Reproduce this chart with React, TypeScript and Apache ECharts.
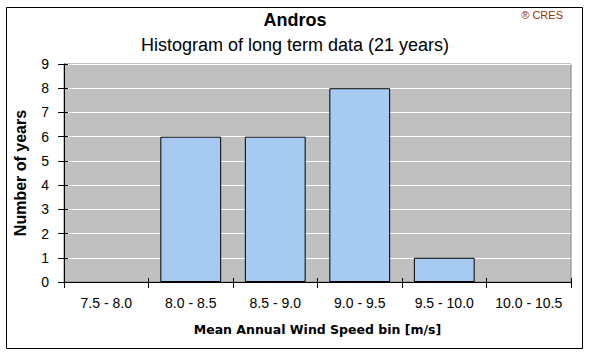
import React, { useEffect, useRef } from "react";
import * as echarts from "echarts";

const categories = ["7.5 - 8.0", "8.0 - 8.5", "8.5 - 9.0", "9.0 - 9.5", "9.5 - 10.0", "10.0 - 10.5"];
const yearCounts = [0, 6, 6, 8, 1, 0];
const titleText = "Andros";
const subtitleText = "Histogram of long term data (21 years)";
const xAxisName = "Mean Annual Wind Speed bin [m/s]";
const yAxisName = "Number of years";
const creditText = "® CRES";

export default function App() {
  const ref = useRef<HTMLDivElement>(null);
  useEffect(() => {
    if (!ref.current) return;
    const chart = echarts.init(ref.current, undefined, { renderer: "svg" });
    const font = "'Liberation Sans', Arial, sans-serif";
    chart.setOption({
      animation: false,
      backgroundColor: "#ffffff",
      textStyle: { fontFamily: font },
      graphic: [
        {
          type: "rect",
          shape: { x: 6.5, y: 7.5, width: 576, height: 341 },
          style: { fill: "none", stroke: "#000000", lineWidth: 1 },
          z: 0,
        },
        {
          type: "text",
          x: 295,
          y: 20,
          style: { text: titleText, font: `bold 18px ${font}`, fill: "#000", align: "center", verticalAlign: "middle" },
        },
        {
          type: "text",
          x: 295,
          y: 45,
          style: { text: subtitleText, font: `18px ${font}`, fill: "#000", align: "center", verticalAlign: "middle" },
        },
        {
          type: "text",
          x: 563,
          y: 15,
          style: { text: creditText, font: `11px ${font}`, fill: "#993300", align: "right", verticalAlign: "middle" },
        },
      ],
      grid: {
        left: 64,
        top: 64,
        right: 19,
        bottom: 72,
        show: true,
        backgroundColor: "#C0C0C0",
        borderColor: "#808080",
        borderWidth: 1,
      },
      xAxis: [
        {
          type: "category",
          data: categories,
          position: "bottom",
          axisLine: { show: true, lineStyle: { color: "#000", width: 1 } },
          axisTick: { show: true, length: 6, inside: false, lineStyle: { color: "#000" } },
          axisLabel: { fontSize: 14, color: "#000", margin: 14, fontFamily: font, interval: 0 },
          splitLine: { show: false },
          name: xAxisName,
          nameLocation: "middle",
          nameGap: 41,
          nameTextStyle: { fontFamily: "'DejaVu Sans', Verdana, sans-serif", fontWeight: "bold", fontSize: 12.5, color: "#000" },
        },
        {
          type: "category",
          data: categories,
          position: "bottom",
          axisLine: { show: false },
          axisTick: { show: true, length: 4, inside: true, lineStyle: { color: "#000" } },
          axisLabel: { show: false },
          splitLine: { show: false },
        },
      ],
      yAxis: [
        {
          type: "value",
          min: 0,
          max: 9,
          interval: 1,
          position: "left",
          axisLine: { show: true, lineStyle: { color: "#000", width: 1 } },
          axisTick: { show: true, length: 6, inside: false, lineStyle: { color: "#000" } },
          axisLabel: { fontSize: 14, color: "#000", margin: 15, fontFamily: font },
          splitLine: { show: true, lineStyle: { color: "#ffffff", width: 1 } },
          name: yAxisName,
          nameLocation: "middle",
          nameGap: 36,
          nameRotate: 90,
          nameTextStyle: { fontFamily: font, fontWeight: "bold", fontSize: 16, color: "#000" },
        },
        {
          type: "value",
          min: 0,
          max: 9,
          interval: 1,
          position: "left",
          axisLine: { show: false },
          axisTick: { show: true, length: 4, inside: true, lineStyle: { color: "#000" } },
          axisLabel: { show: false },
          splitLine: { show: false },
        },
      ],
      series: [
        {
          type: "bar",
          data: yearCounts.map((v) => (v === 0 ? { value: v, itemStyle: { borderWidth: 0, opacity: 0 } } : v)),
          xAxisIndex: 0,
          yAxisIndex: 0,
          barCategoryGap: "28%",
          itemStyle: { color: "#A6CAF0", borderColor: "#000", borderWidth: 1 },
        },
      ],
    });
    return () => chart.dispose();
  }, []);
  return (
    <div
      ref={ref}
      style={{ position: "absolute", left: 0, top: 0, width: 590, height: 354 }}
    />
  );
}
